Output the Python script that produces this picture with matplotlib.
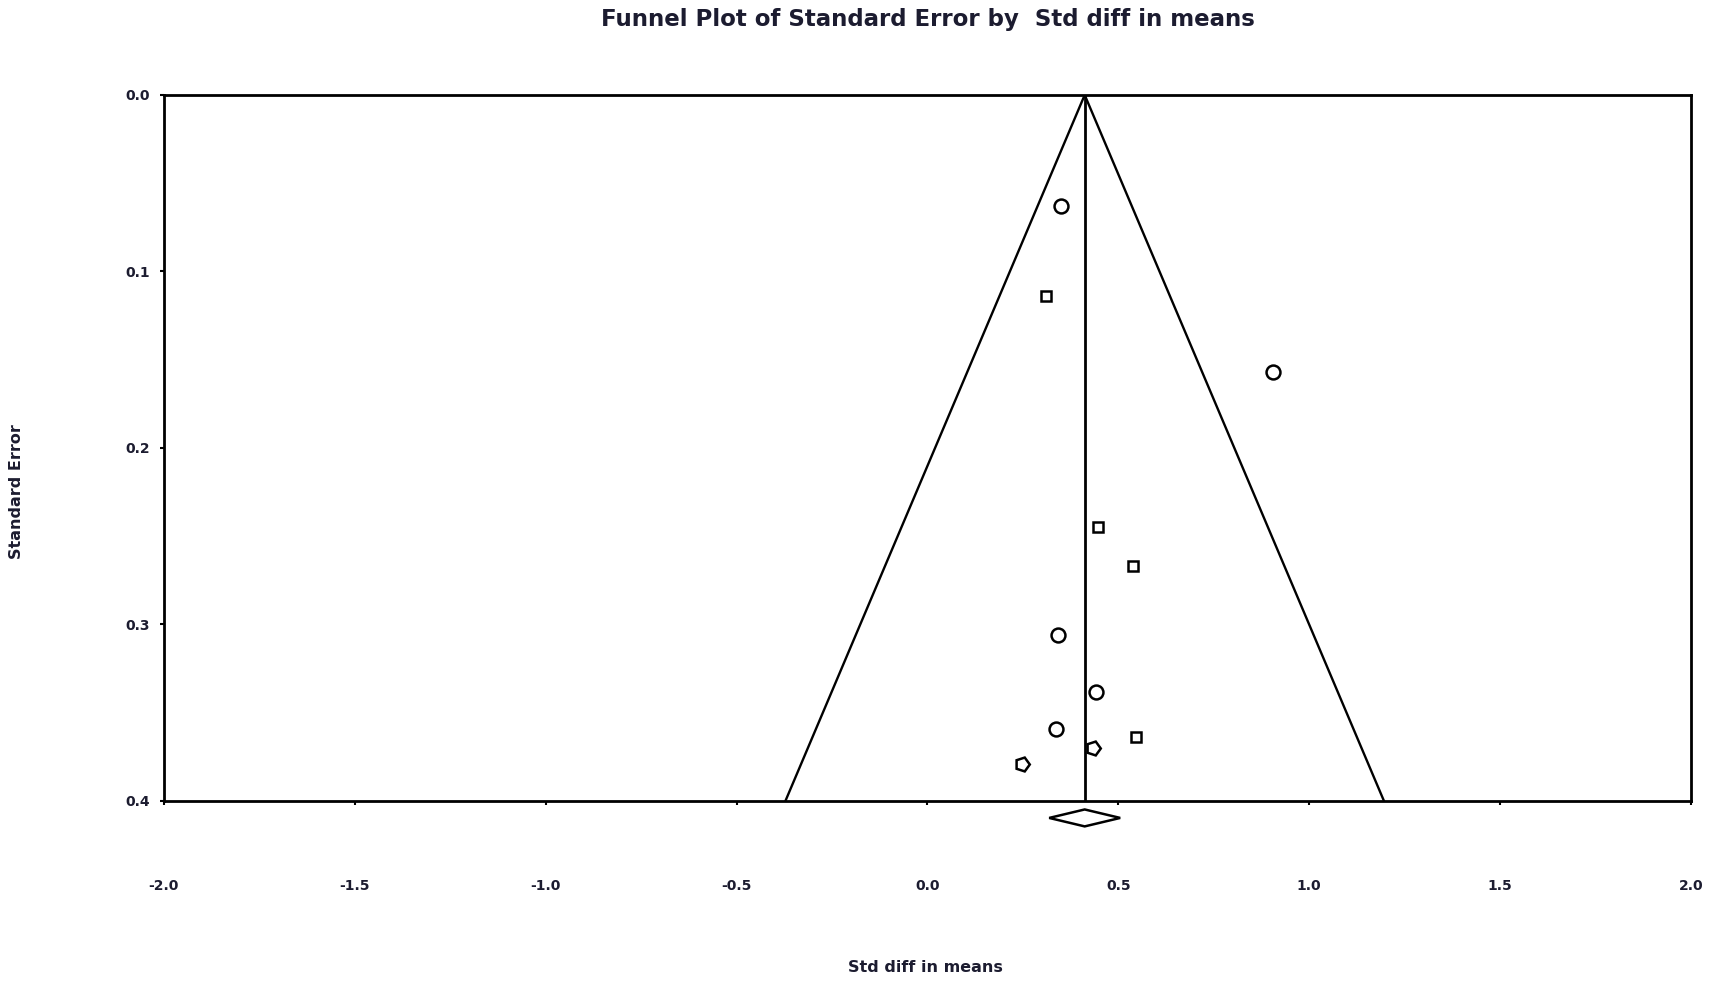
#!/usr/bin/env python3
"""Funnel plot of standard error by std diff in means."""
import matplotlib
matplotlib.use("Agg")
import matplotlib.pyplot as plt
from matplotlib.patches import Polygon

# study-level effects (std diff in means) and their standard errors
circle_x = [0.349, 0.905, 0.341, 0.441, 0.337]
circle_se = [0.063, 0.157, 0.306, 0.338, 0.359]
square_x = [0.310, 0.447, 0.538, 0.546]
square_se = [0.114, 0.245, 0.267, 0.364]
pent_x = [0.433, 0.248]
pent_se = [0.370, 0.379]

# pooled estimate and its confidence interval
pooled = 0.412
ci_low, ci_high = 0.319, 0.505
se_max = 0.4
z = 1.96

x_ticks = [-2.0, -1.5, -1.0, -0.5, 0.0, 0.5, 1.0, 1.5, 2.0]
y_ticks = [0.0, 0.1, 0.2, 0.3, 0.4]

TXT = "#1c1c30"
FONT = "DejaVu Sans"

fig = plt.figure(figsize=(17.13, 9.81), dpi=100)
ax = fig.add_axes([0.0957, 0.1835, 0.8914, 0.7197])

# funnel and pooled line
ax.plot([pooled - z * se_max, pooled, pooled + z * se_max], [se_max, 0.0, se_max],
        color="black", lw=1.7)
ax.plot([pooled, pooled], [0.0, se_max], color="black", lw=2.0)

mk = dict(linestyle="none", markerfacecolor="white", markeredgecolor="black",
          markeredgewidth=1.8, zorder=3)
ax.plot(circle_x, circle_se, marker="o", markersize=10, **mk)
ax.plot(square_x, square_se, marker="s", markersize=7.5, **mk)
ax.plot(pent_x, pent_se, marker=(5, 0, -90), markersize=10.5, **mk)

# summary diamond below the axis
dy_c, dy_h = 0.0096, 0.0048
diamond = Polygon([(ci_low, se_max + dy_c), (pooled, se_max + dy_c - dy_h),
                   (ci_high, se_max + dy_c), (pooled, se_max + dy_c + dy_h)],
                  closed=True, fill=False, edgecolor="black", lw=1.8,
                  clip_on=False)
ax.add_patch(diamond)

ax.set_xlim(-2.0, 2.0)
ax.set_ylim(se_max, 0.0)
ax.set_xticks(x_ticks)
ax.set_xticklabels([f"{v:.1f}" for v in x_ticks])
ax.set_yticks(y_ticks)
ax.set_yticklabels([f"{v:.1f}" for v in y_ticks])
ax.tick_params(axis="x", direction="out", length=3, width=1.5, pad=53,
               labelsize=10, labelcolor=TXT)
ax.tick_params(axis="y", direction="out", length=3, width=1.5, pad=7,
               labelsize=10, labelcolor=TXT)
for lab in ax.get_xticklabels() + ax.get_yticklabels():
    lab.set_fontweight("bold")
    lab.set_family(FONT)
for sp in ax.spines.values():
    sp.set_linewidth(2.0)

fig.text(0.5415, 0.980, "Funnel Plot of Standard Error by  Std diff in means",
         ha="center", va="center", fontsize=16.5, fontweight="bold",
         color=TXT, family=FONT)
fig.text(0.5405, 0.0133, "Std diff in means", ha="center", va="center",
         fontsize=11.5, fontweight="bold", color=TXT, family=FONT)
fig.text(0.0099, 0.4985, "Standard Error", ha="center", va="center",
         rotation=90, fontsize=11.5, fontweight="bold", color=TXT, family=FONT)

fig.savefig("out.png", dpi=100)
